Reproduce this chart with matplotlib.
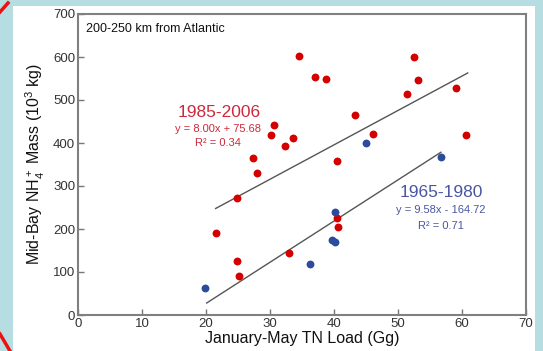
import matplotlib
matplotlib.use("Agg")
import matplotlib.pyplot as plt
from matplotlib.patches import Rectangle
from matplotlib.lines import Line2D
import numpy as np

plt.rcParams['font.family'] = ['Liberation Sans', 'DejaVu Sans']
plt.rcParams['mathtext.fontset'] = 'custom'
plt.rcParams['mathtext.rm'] = 'Liberation Sans'
plt.rcParams['mathtext.it'] = 'Liberation Sans:italic'
plt.rcParams['mathtext.bf'] = 'Liberation Sans:bold'

# 1985-2006 (red)
red_x = [34.6, 37.1, 38.8, 52.5, 53.1, 51.4, 59.0, 43.3, 30.7, 30.2, 33.6, 32.4,
         27.4, 27.9, 40.5, 46.1, 60.7, 24.9, 21.5, 24.9, 25.1, 32.9, 40.5, 40.7]
red_y = [602, 553, 549, 600, 547, 514, 528, 465, 442, 419, 412, 393,
         365, 330, 358, 421, 419, 272, 190, 126, 91, 144, 226, 205]
# 1965-1980 (blue)
blue_x = [45.0, 56.7, 40.2, 39.7, 40.2, 36.3, 19.9]
blue_y = [400, 367, 239, 174, 170, 119, 63]

red_fit = (8.00, 75.68, 21.5, 60.9)
blue_fit = (9.58, -164.72, 20.1, 56.7)

x_ticks = [0, 10, 20, 30, 40, 50, 60, 70]
y_ticks = [0, 100, 200, 300, 400, 500, 600, 700]

RED = '#d40000'
RED_TXT = '#cc2a3c'
BLUE = '#2b4c9b'
BLUE_TXT = '#4a56a3'

fig = plt.figure(figsize=(5.43, 3.51), dpi=100)
fig.patch.set_facecolor('#b6dde1')
W, H = 543, 351
fig.patches.append(Rectangle((13 / W, 0), (535 - 13) / W, 1 - 6 / H,
                             transform=fig.transFigure, facecolor='white',
                             edgecolor='none', zorder=-10))
fig.lines.append(Line2D([0, 8 / W], [1 - 12 / H, 1 - 3 / H], transform=fig.transFigure,
                        color='#ee1111', lw=2.5))
fig.lines.append(Line2D([0, 10 / W], [1 - 334 / H, 1 - 351 / H], transform=fig.transFigure,
                        color='#ee1111', lw=2.5))

ax = fig.add_axes([78 / W, 1 - 315 / H, (526 - 78) / W, (315 - 14) / H])
ax.set_zorder(5)
ax.set_facecolor('white')
ax.set_xlim(0, 70)
ax.set_ylim(0, 700)
ax.set_xticks(x_ticks)
ax.set_yticks(y_ticks)
ax.tick_params(direction='in', length=4, width=1, color='#777777',
               labelsize=9.5, labelcolor='#333333', pad=2)
for s in ax.spines.values():
    s.set_color('#808080')
    s.set_linewidth(1.5)

for fit in (red_fit, blue_fit):
    m, b, x0, x1 = fit
    xs = np.array([x0, x1])
    ax.plot(xs, m * xs + b, color='#555555', lw=1.0, zorder=2)

ax.scatter(red_x, red_y, s=32, color=RED, zorder=3, linewidths=0)
ax.scatter(blue_x, blue_y, s=32, color=BLUE, zorder=3, linewidths=0)

ax.text(1.25, 665, '200-250 km from Atlantic', fontsize=9, color='#111111',
        ha='left', va='center')

ax.text(22.1, 470, '1985-2006', fontsize=12.5, color=RED_TXT, ha='center', va='center')
ax.text(21.9, 433, 'y = 8.00x + 75.68', fontsize=8, color=RED_TXT, ha='center', va='center')
ax.text(21.8, 400, 'R² = 0.34', fontsize=8, color=RED_TXT, ha='center', va='center')

ax.text(56.7, 284, '1965-1980', fontsize=12.5, color=BLUE_TXT, ha='center', va='center')
ax.text(56.7, 244, 'y = 9.58x - 164.72', fontsize=8, color=BLUE_TXT, ha='center', va='center')
ax.text(56.7, 207, 'R² = 0.71', fontsize=8, color=BLUE_TXT, ha='center', va='center')

ax.set_xlabel('January-May TN Load (Gg)', fontsize=11.5, color='#111111', labelpad=1)
ax.set_ylabel(r'Mid-Bay NH$_4^+$ Mass (10$^3$ kg)', fontsize=11.5, color='#111111', labelpad=4)

fig.savefig('out.png', dpi=100, facecolor=fig.get_facecolor())
